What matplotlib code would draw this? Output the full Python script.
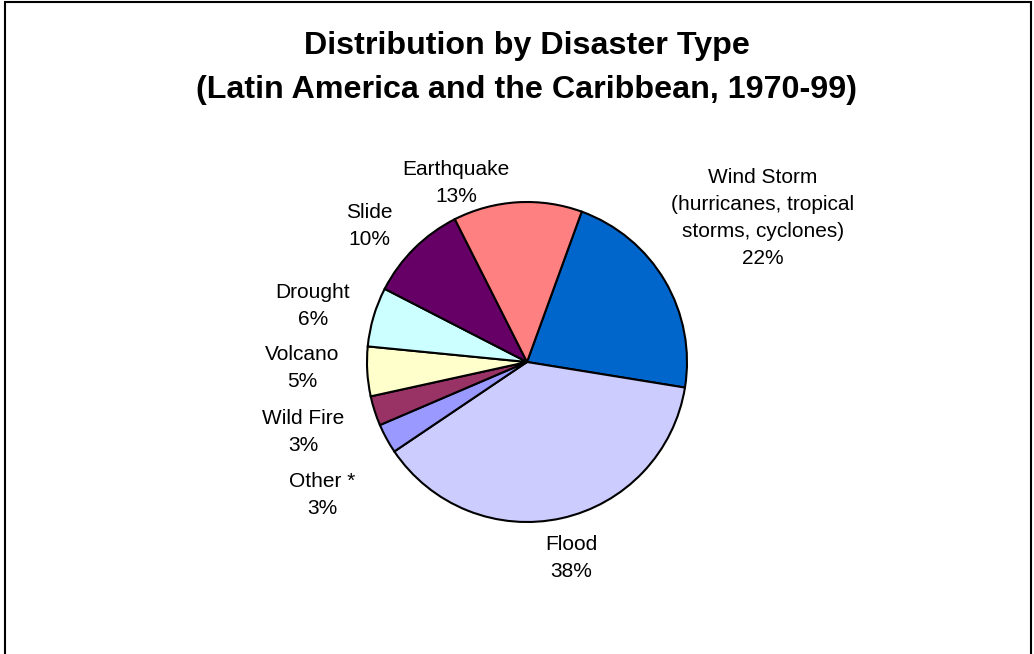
import matplotlib
matplotlib.use("Agg")
import matplotlib.pyplot as plt
from matplotlib.patches import Rectangle

plt.rcParams['font.family'] = ['Liberation Sans', 'DejaVu Sans']

# Data (clockwise from the top)
categories = ['Wind Storm\n(hurricanes, tropical\nstorms, cyclones)', 'Flood', 'Other *',
              'Wild Fire', 'Volcano', 'Drought', 'Slide', 'Earthquake']
shares = [22, 38, 3, 3, 5, 6, 10, 13]
colors = ['#0066CC', '#CCCCFF', '#9999FF', '#993366', '#FFFFCC', '#CCFFFF', '#660066', '#FF8080']

# label anchor points in pixels (x, y from top)
label_pos = [(763, 218), (571, 558), (322, 495), (303, 432), (302, 368),
             (313, 306), (369, 226), (456, 183)]

W, H = 1034, 654
fig = plt.figure(figsize=(W / 100, H / 100), dpi=100)
ax = fig.add_axes([0, 0, 1, 1])

cx, cy, r = 527, H - 362, 160
wedges, texts = ax.pie(shares, colors=colors, startangle=70, counterclock=False,
                       center=(cx, cy), radius=r, frame=True,
                       labels=[f'{c}\n{s}%' for c, s in zip(categories, shares)],
                       wedgeprops=dict(edgecolor='black', linewidth=1.5),
                       textprops=dict(fontsize=15, ha='center', va='center', linespacing=1.55))
for t, (px, py) in zip(texts, label_pos):
    t.set_position((px, H - py))
    t.set_ha('center')
    t.set_va('center')
ax.set_xlim(0, W)
ax.set_ylim(0, H)
ax.set_aspect('auto')
ax.axis('off')

# chart frame (bottom edge is cut off)
ax.add_patch(Rectangle((5, -10), 1026, H + 8, fill=False, edgecolor='black', linewidth=1.5))

ax.text(527, H - 68, 'Distribution by Disaster Type\n(Latin America and the Caribbean, 1970-99)',
        ha='center', va='center', fontsize=23.2, fontweight='bold', linespacing=1.6)

fig.savefig('out.png', dpi=100)
